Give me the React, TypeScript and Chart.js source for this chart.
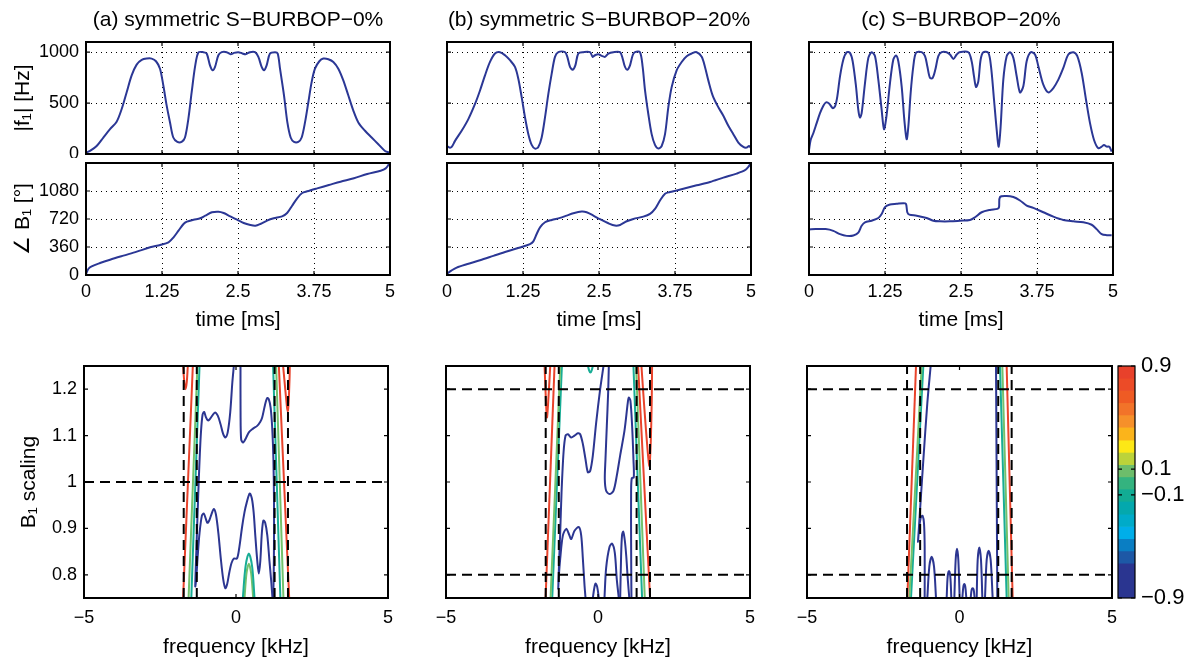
import React, { useEffect, useRef } from "react";
import { Chart, registerables } from "chart.js";

Chart.register(...registerables);

type Pt = [number, number];

const FAMILY = "'Liberation Sans', Arial, Helvetica, sans-serif";
const TICK_SIZE = 18;
const LABEL_SIZE = 21;
const CBAR_SIZE = 22;

const TRACE = "#2b3795";
const RED = "#e8432b";
const GREEN = "#74c16b";
const TEAL = "#18ad95";
const BLUE = "#2c3691";

// ---------- ticks / ranges / texts ----------
const timeTicks = [0, 1.25, 2.5, 3.75, 5];
const f1Ticks = [0, 500, 1000];
const phaseTicks = [0, 360, 720, 1080];
const freqTicks = [-5, 0, 5];
const scalingTicks = [0.8, 0.9, 1, 1.1, 1.2];
const cbarTicks = [-0.9, -0.1, 0.1, 0.9];

const timeRange: Pt = [0, 5];
const f1Range: Pt = [0, 1100];
const phaseRange: Pt = [0, 1440];
const freqRange: Pt = [-5, 5];
const scalingRange: Pt = [0.75, 1.25];
const cbarRange: Pt = [-0.9, 0.9];

const panelTitles = ["(a) symmetric S\u2212BURBOP\u22120%", "(b) symmetric S\u2212BURBOP\u221220%", "(c) S\u2212BURBOP\u221220%"];
const f1Label = "|f\u2081| [Hz]";
const phaseLabel = "\u2220 B\u2081 [\u00b0]";
const timeLabel = "time [ms]";
const freqLabel = "frequency [kHz]";
const scalingLabel = "B\u2081 scaling";

// ---------- |f1| traces (time ms, Hz) ----------
const f1A: Pt[] = [[0,13],[0.066,30],[0.175,79],[0.285,162],[0.395,244],[0.504,317],[0.587,442],[0.669,607],[0.751,772],[0.833,878],[0.916,924],[0.998,937],[1.08,937],[1.151,911],[1.217,838],[1.272,673],[1.327,475],[1.382,310],[1.436,162],[1.502,119],[1.573,119],[1.628,162],[1.683,343],[1.738,607],[1.793,855],[1.848,997],[1.93,1000],[1.985,987],[2.039,871],[2.083,822],[2.122,855],[2.177,970],[2.232,1000],[2.314,1000],[2.379,980],[2.434,993],[2.505,1000],[2.571,987],[2.626,980],[2.697,1000],[2.78,1000],[2.835,954],[2.889,855],[2.928,822],[2.971,871],[3.026,987],[3.109,1000],[3.153,987],[3.191,838],[3.257,574],[3.312,310],[3.366,162],[3.421,119],[3.492,119],[3.547,162],[3.602,310],[3.657,508],[3.711,706],[3.766,838],[3.838,911],[3.904,937],[3.986,931],[4.068,904],[4.15,838],[4.232,723],[4.315,574],[4.397,426],[4.479,310],[4.589,228],[4.698,162],[4.808,96],[4.918,30],[5,13]];
const f1B: Pt[] = [[0,79],[0.038,63],[0.077,69],[0.132,129],[0.241,228],[0.351,343],[0.461,492],[0.543,624],[0.625,772],[0.707,904],[0.789,987],[0.872,1000],[0.954,970],[1.036,921],[1.118,855],[1.173,739],[1.228,558],[1.283,360],[1.338,195],[1.393,89],[1.447,53],[1.502,69],[1.557,162],[1.612,360],[1.667,591],[1.722,789],[1.776,954],[1.831,1000],[1.941,1000],[1.979,954],[2.023,855],[2.067,828],[2.111,871],[2.16,987],[2.242,1000],[2.352,1000],[2.396,954],[2.434,970],[2.489,980],[2.544,964],[2.599,954],[2.654,987],[2.736,1000],[2.846,1000],[2.889,937],[2.928,855],[2.966,828],[3.01,871],[3.054,970],[3.092,1000],[3.174,1000],[3.218,855],[3.257,624],[3.311,393],[3.366,195],[3.421,89],[3.476,53],[3.531,79],[3.586,195],[3.64,459],[3.695,657],[3.777,822],[3.86,904],[3.942,960],[4.024,987],[4.106,1000],[4.189,954],[4.243,855],[4.298,723],[4.37,574],[4.463,459],[4.545,376],[4.627,277],[4.709,195],[4.792,112],[4.874,69],[4.929,63],[4.967,79],[4.995,63]];
const f1C: Pt[] = [[0,39],[0.027,138],[0.071,204],[0.126,303],[0.181,401],[0.236,474],[0.28,507],[0.334,494],[0.389,451],[0.428,467],[0.466,566],[0.51,763],[0.565,928],[0.62,1000],[0.674,993],[0.718,911],[0.773,665],[0.811,434],[0.839,359],[0.866,401],[0.921,697],[0.976,944],[1.031,1000],[1.086,961],[1.14,730],[1.195,434],[1.234,243],[1.277,385],[1.332,697],[1.387,928],[1.431,967],[1.469,911],[1.524,665],[1.568,336],[1.606,145],[1.634,270],[1.672,599],[1.716,862],[1.76,994],[1.853,1000],[1.908,961],[1.946,862],[1.99,747],[2.034,747],[2.078,829],[2.127,961],[2.182,1000],[2.264,1000],[2.319,977],[2.374,934],[2.429,977],[2.473,1000],[2.621,1000],[2.675,911],[2.714,763],[2.747,658],[2.785,714],[2.823,928],[2.867,1000],[2.95,993],[2.993,862],[3.043,533],[3.087,237],[3.12,72],[3.152,270],[3.196,730],[3.251,961],[3.306,1000],[3.361,944],[3.416,763],[3.47,605],[3.525,665],[3.58,911],[3.646,1000],[3.717,977],[3.772,862],[3.854,681],[3.936,605],[4.019,648],[4.101,730],[4.183,845],[4.265,977],[4.348,1000],[4.413,961],[4.485,796],[4.556,533],[4.622,303],[4.688,138],[4.759,56],[4.814,72],[4.852,89],[4.896,72],[4.94,72],[4.978,23]];

// ---------- phase traces (time ms, degrees) ----------
const phaseA: Pt[] = [[0,13],[0.038,77],[0.093,111],[0.231,154],[0.396,197],[0.615,249],[0.835,300],[1.055,356],[1.22,386],[1.357,420],[1.44,484],[1.522,570],[1.604,656],[1.659,686],[1.769,711],[1.879,729],[1.962,763],[2.071,806],[2.181,814],[2.264,797],[2.374,754],[2.484,711],[2.593,669],[2.703,643],[2.786,634],[2.868,656],[2.978,699],[3.088,729],[3.225,754],[3.308,797],[3.39,891],[3.473,986],[3.555,1054],[3.637,1076],[3.802,1114],[3.995,1157],[4.187,1200],[4.407,1243],[4.626,1299],[4.846,1341],[4.929,1371],[4.984,1427]];
const phaseB: Pt[] = [[0,9],[0.022,30],[0.077,60],[0.159,95],[0.323,138],[0.543,190],[0.762,246],[0.981,302],[1.201,354],[1.365,397],[1.42,432],[1.475,527],[1.53,613],[1.612,678],[1.722,708],[1.859,734],[1.968,764],[2.078,794],[2.215,816],[2.297,807],[2.407,764],[2.516,717],[2.654,665],[2.763,635],[2.846,643],[2.955,691],[3.065,721],[3.229,751],[3.339,786],[3.421,850],[3.503,958],[3.586,1045],[3.668,1066],[3.887,1109],[4.106,1153],[4.326,1196],[4.545,1252],[4.764,1304],[4.901,1347],[4.956,1390],[4.995,1433]];
const phaseC: Pt[] = [[0,585],[0.11,590],[0.274,590],[0.4,568],[0.51,525],[0.62,503],[0.729,507],[0.811,546],[0.866,633],[0.921,677],[1.031,698],[1.14,733],[1.195,785],[1.25,872],[1.332,906],[1.442,915],[1.552,924],[1.595,915],[1.617,807],[1.65,776],[1.771,763],[1.935,733],[2.045,698],[2.155,690],[2.319,690],[2.484,698],[2.648,707],[2.73,742],[2.84,807],[2.977,837],[3.098,850],[3.125,872],[3.141,1002],[3.251,1015],[3.361,1002],[3.47,958],[3.58,893],[3.69,863],[3.854,807],[4.019,750],[4.183,707],[4.348,690],[4.512,677],[4.649,646],[4.731,590],[4.814,525],[4.896,512],[4.978,512]];

// ---------- contour lines (kHz, B1 scaling) ----------
// panel (a)
const aRedVL: Pt[] = [[-1.74,1.25],[-1.7,1.215],[-1.66,1.2],[-1.62,1.215],[-1.585,1.25]];
const aRedL: Pt[] = [[-1.74,0.75],[-1.42,1.25]];
const aGreenL: Pt[] = [[-1.56,0.75],[-1.27,1.25]];
const aTealL: Pt[] = [[-1.47,0.75],[-1.2,1.25]];
const aBlue1: Pt[] = [[-0.071,1.25],[-0.12,1.215],[-0.19,1.15],[-0.27,1.108],[-0.345,1.096],[-0.42,1.103],[-0.51,1.125],[-0.6,1.143],[-0.69,1.15],[-0.78,1.143],[-0.88,1.134],[-0.93,1.133],[-0.99,1.14],[-1.05,1.151],[-1.1,1.145],[-1.15,1.11],[-1.19,1.06],[-1.23,0.995],[-1.27,0.92],[-1.31,0.84],[-1.34,0.775],[-1.31,0.79],[-1.26,0.84],[-1.2,0.89],[-1.12,0.928],[-1.06,0.932],[-1.0,0.922],[-0.94,0.912],[-0.88,0.917],[-0.8,0.932],[-0.73,0.942],[-0.66,0.93],[-0.58,0.89],[-0.5,0.835],[-0.42,0.79],[-0.35,0.771],[-0.29,0.78],[-0.22,0.805],[-0.15,0.825],[-0.07,0.835],[0.03,0.835],[0.1,0.855],[0.2,0.903],[0.28,0.935],[0.35,0.955],[0.45,0.975],[0.52,0.965],[0.58,0.935],[0.64,0.88],[0.7,0.83],[0.75,0.803],[0.8,0.83],[0.85,0.89],[0.9,0.917],[0.96,0.912],[1.03,0.885],[1.1,0.83],[1.16,0.785],[1.2,0.75]];
const aBlue2: Pt[] = [[0.148,1.25],[0.15,1.15],[0.17,1.092],[0.236,1.085],[0.33,1.095],[0.422,1.107],[0.56,1.115],[0.696,1.121],[0.8,1.13],[0.861,1.139],[0.95,1.165],[1.025,1.181],[1.08,1.178],[1.14,1.16],[1.19,1.118],[1.23,1.05],[1.25,0.96],[1.25,0.87],[1.24,0.8],[1.225,0.75]];
const aTealArch: Pt[] = [[0.225,0.75],[0.312,0.817],[0.422,0.846],[0.532,0.817],[0.609,0.75]];
const aGreenArch: Pt[] = [[0.28,0.75],[0.345,0.803],[0.422,0.824],[0.499,0.803],[0.565,0.75]];
const aTealR: Pt[] = [[1.22,1.25],[1.46,0.75]];
const aGreenR: Pt[] = [[1.32,1.25],[1.56,0.75]];
const aRedR: Pt[] = [[1.41,1.25],[1.75,0.75]];
const aRedVR: Pt[] = [[1.55,1.25],[1.62,1.2],[1.68,1.16],[1.705,1.153],[1.73,1.17],[1.76,1.22],[1.77,1.25]];
// panel (b)
const bRedVL: Pt[] = [[-1.757,1.25],[-1.724,1.193],[-1.68,1.139],[-1.626,1.186],[-1.571,1.25]];
const bRedL: Pt[] = [[-1.724,0.75],[-1.43,1.25]];
const bGreenL: Pt[] = [[-1.56,0.75],[-1.242,1.25]];
const bTealL: Pt[] = [[-1.505,0.75],[-1.188,1.25]];
const bTealTop: Pt[] = [[-0.33,1.25],[-0.29,1.24],[-0.25,1.236],[-0.21,1.24],[-0.17,1.25]];
const bBlue1: Pt[] = [[0.181,1.25],[0.071,1.2],[-0.06,1.128],[-0.17,1.057],[-0.257,1.024],[-0.334,1.021],[-0.411,1.049],[-0.498,1.082],[-0.586,1.103],[-0.662,1.105],[-0.772,1.1],[-0.881,1.096],[-0.991,1.103],[-1.067,1.1],[-1.133,1.064],[-1.199,0.978],[-1.243,0.892],[-1.275,0.835],[-1.297,0.792],[-1.308,0.77],[-1.286,0.8],[-1.243,0.835],[-1.155,0.885],[-1.045,0.899],[-0.958,0.888],[-0.881,0.877],[-0.772,0.895],[-0.629,0.903],[-0.553,0.885],[-0.498,0.835],[-0.443,0.777],[-0.41,0.75]];
const bBlue2: Pt[] = [[0.356,1.25],[0.334,1.193],[0.29,1.121],[0.246,1.049],[0.224,1.006],[0.268,0.981],[0.378,0.974],[0.509,0.981],[0.619,1.014],[0.728,1.057],[0.87,1.11],[0.98,1.171],[1.013,1.182],[1.067,1.175],[1.122,1.121],[1.166,1.049],[1.177,1.01],[1.111,1.008],[1.089,0.978],[1.089,0.87],[1.1,0.75]];
const bArch1: Pt[] = [[-0.17,0.75],[-0.126,0.77],[-0.082,0.781],[-0.027,0.774],[0.027,0.75]];
const bArch2: Pt[] = [[0.213,0.75],[0.268,0.815],[0.378,0.86],[0.465,0.867],[0.553,0.847],[0.618,0.79],[0.684,0.75]];
const bArch3: Pt[] = [[0.73,0.75],[0.76,0.84],[0.79,0.885],[0.83,0.893],[0.88,0.875],[0.93,0.84],[0.98,0.79],[1.03,0.75]];
const bTealR: Pt[] = [[1.166,1.25],[1.45,0.75]];
const bGreenR: Pt[] = [[1.253,1.25],[1.538,0.75]];
const bRedR: Pt[] = [[1.319,1.25],[1.713,0.75]];
const bRedVR: Pt[] = [[1.429,1.25],[1.527,1.157],[1.637,1.064],[1.691,1.035],[1.735,1.085],[1.768,1.178],[1.779,1.25]];
// panel (c)
const cRedL: Pt[] = [[-1.71,0.75],[-1.426,1.25]];
const cGreenL: Pt[] = [[-1.645,0.75],[-1.24,1.25]];
const cTealL: Pt[] = [[-1.59,0.75],[-1.186,1.25]];
const cBlueL: Pt[] = [[-0.945,1.25],[-1.055,1.17],[-1.186,1.047],[-1.273,0.961],[-1.328,0.904],[-1.361,0.871],[-1.317,0.904],[-1.262,0.925],[-1.208,0.927],[-1.164,0.911],[-1.142,0.861],[-1.142,0.75]];
const cArch1: Pt[] = [[-1.055,0.75],[-0.989,0.818],[-0.913,0.839],[-0.836,0.818],[-0.77,0.75]];
const cArch2: Pt[] = [[-0.421,0.75],[-0.388,0.796],[-0.344,0.808],[-0.301,0.796],[-0.268,0.75]];
const cArch3: Pt[] = [[-0.169,0.75],[-0.126,0.832],[-0.082,0.856],[-0.038,0.832],[0.005,0.75]];
const cArch4: Pt[] = [[0.093,0.75],[0.126,0.774],[0.158,0.78],[0.191,0.774],[0.224,0.75]];
const cArch5: Pt[] = [[0.366,0.75],[0.399,0.768],[0.432,0.771],[0.464,0.768],[0.497,0.75]];
const cArch6: Pt[] = [[0.563,0.75],[0.596,0.832],[0.65,0.859],[0.705,0.832],[0.749,0.75]];
const cArch7: Pt[] = [[0.836,0.75],[0.891,0.832],[0.956,0.852],[1.022,0.832],[1.087,0.75]];
const cBlueR: Pt[] = [[1.197,1.25],[1.24,0.75]];
const cTealR: Pt[] = [[1.328,1.25],[1.546,0.75]];
const cGreenR: Pt[] = [[1.404,1.25],[1.612,0.75]];
const cRedR: Pt[] = [[1.546,1.25],[1.743,0.75]];

// dashed reference lines
const vDashA = [-1.72, -1.29, 1.27, 1.71];
const hDashA = [1];
const vDashB = [-1.72, -1.29, 1.27, 1.71];
const hDashB = [0.8, 1.2];
const vDashC = [-1.72, -1.29, 1.27, 1.71];
const hDashC = [0.8, 1.2];

// colour bar
const cbarEdges = [0.9, 0.805, 0.71, 0.615, 0.52, 0.425, 0.325, 0.23, 0.135, 0.04, -0.055, -0.15, -0.25, -0.345, -0.44, -0.535, -0.63, -0.9];
const cbarColors = ["#e8412b", "#ec4b27", "#ef5b24", "#f27329", "#f6902a", "#fbb41b", "#fde816", "#bcd33a", "#6dbd6b", "#34b37f", "#12ac94", "#04a8ad", "#00abc9", "#00aee9", "#0a7ec3", "#1d58a6", "#2a3590"];

// ---------- helpers ----------
const fmt = (v: any) => {
  const n = Number(v);
  return n < 0 ? "\u2212" + String(-n) : String(n);
};

const curve = (pts: Pt[], color: string, width = 2, dash?: number[]) => ({
  data: pts.map(([x, y]) => ({ x, y })),
  showLine: true,
  borderColor: color,
  backgroundColor: color,
  borderWidth: width,
  borderDash: dash || [],
  pointRadius: 0,
  tension: dash ? 0 : 0.3,
  fill: false,
});

const dashLines = (vs: number[], hs: number[]) => [
  ...hs.map((h) => curve([[freqRange[0], h], [freqRange[1], h]], "#000", 2, [10, 6])),
  ...vs.map((v) => curve([[v, scalingRange[0]], [v, scalingRange[1]]], "#000", 2, [10, 6])),
];

const boxPlugin = {
  id: "mbox",
  afterDatasetsDraw(chart: any, _args: any, opts: any) {
    const { ctx, chartArea: ca } = chart;
    const xs = chart.scales.x;
    const ys = chart.scales.y;
    const tl = 4;
    ctx.save();
    ctx.strokeStyle = "#000";
    ctx.lineWidth = 1.2;
    ctx.beginPath();
    if (opts.xTicks !== false && xs) {
      for (const t of xs.ticks) {
        const px = xs.getPixelForValue(t.value);
        ctx.moveTo(px, ca.bottom);
        ctx.lineTo(px, ca.bottom - tl);
        ctx.moveTo(px, ca.top);
        ctx.lineTo(px, ca.top + tl);
      }
    }
    if (ys) {
      for (const t of ys.ticks) {
        const py = ys.getPixelForValue(t.value);
        ctx.moveTo(ca.left, py);
        ctx.lineTo(ca.left + tl, py);
        ctx.moveTo(ca.right, py);
        ctx.lineTo(ca.right - tl, py);
      }
    }
    ctx.stroke();
    ctx.lineWidth = opts.width || 2;
    ctx.strokeRect(ca.left, ca.top, ca.right - ca.left, ca.bottom - ca.top);
    ctx.restore();
  },
};

interface AxisSpec {
  range: Pt;
  ticks: number[];
  labels: boolean;
  title?: string;
  grid: boolean;
  tickPad?: number;
  titlePad?: number;
}
interface PanelSpec {
  rect: [number, number, number, number];
  pad: [number, number, number, number];
  x: AxisSpec;
  y: AxisSpec;
  title?: string;
  datasets: any[];
}

const tickFont = { family: FAMILY, size: TICK_SIZE };
const labelFont = { family: FAMILY, size: LABEL_SIZE, weight: "normal" as const };

function scatterConfig(p: PanelSpec) {
  const [pl, pt, pr, pb] = p.pad;
  const grid = (on: boolean) => ({ display: on, drawTicks: false, color: "#000", lineWidth: 1 });
  return {
    type: "scatter",
    data: { datasets: p.datasets },
    options: {
      responsive: false,
      animation: false,
      events: [],
      layout: { padding: { left: 0, top: p.title ? 0 : pt, right: pr, bottom: 0 } },
      plugins: {
        legend: { display: false },
        tooltip: { enabled: false },
        title: p.title
          ? {
              display: true,
              text: p.title,
              fullSize: false,
              color: "#000",
              font: labelFont,
              padding: { top: 8, bottom: pt - 8 - LABEL_SIZE * 1.2 },
            }
          : { display: false },
        mbox: {},
      },
      scales: {
        x: {
          type: "linear",
          min: p.x.range[0],
          max: p.x.range[1],
          afterBuildTicks: (s: any) => {
            s.ticks = p.x.ticks.map((v) => ({ value: v }));
          },
          afterFit: (s: any) => {
            s.height = pb;
            s.paddingLeft = 0;
            s.paddingRight = 0;
          },
          ticks: { display: p.x.labels, callback: fmt, font: tickFont, color: "#000", padding: p.x.tickPad ?? 6, maxRotation: 0, autoSkip: false },
          grid: grid(p.x.grid),
          border: { display: false, dash: [1, 4] },
          title: { display: !!p.x.title, text: p.x.title || "", font: labelFont, color: "#000", padding: { top: 0, bottom: p.x.titlePad ?? 4 } },
        },
        y: {
          type: "linear",
          min: p.y.range[0],
          max: p.y.range[1],
          afterBuildTicks: (s: any) => {
            s.ticks = p.y.ticks.map((v) => ({ value: v }));
          },
          afterFit: (s: any) => {
            s.width = pl;
            s.paddingTop = 0;
            s.paddingBottom = 0;
          },
          ticks: { display: p.y.labels, callback: fmt, font: tickFont, color: "#000", padding: p.y.tickPad ?? 7, autoSkip: false },
          grid: grid(p.y.grid),
          border: { display: false, dash: [1, 4] },
          title: { display: !!p.y.title, text: p.y.title || "", font: labelFont, color: "#000", padding: { top: p.y.titlePad ?? 12, bottom: 0 } },
        },
      },
    },
    plugins: [boxPlugin],
  };
}

const CBAR_VPAD = 16;

function colorbarConfig(padR: number) {
  return {
    type: "bar",
    data: {
      labels: [""],
      datasets: cbarColors.map((c, i) => ({
        data: [[cbarEdges[i + 1], cbarEdges[i]]],
        backgroundColor: c,
        borderWidth: 0,
        grouped: false,
        barPercentage: 1,
        categoryPercentage: 1,
      })),
    },
    options: {
      responsive: false,
      animation: false,
      events: [],
      layout: { padding: { left: 4, top: CBAR_VPAD, right: 0, bottom: CBAR_VPAD } },
      plugins: { legend: { display: false }, tooltip: { enabled: false }, mbox: { xTicks: false, width: 1.2 } },
      scales: {
        x: { type: "category", display: false },
        y: {
          type: "linear",
          position: "right",
          min: cbarRange[0],
          max: cbarRange[1],
          afterBuildTicks: (s: any) => {
            s.ticks = cbarTicks.map((v) => ({ value: v }));
          },
          afterFit: (s: any) => {
            s.width = padR;
            s.paddingTop = 0;
            s.paddingBottom = 0;
          },
          ticks: { callback: fmt, font: { family: FAMILY, size: CBAR_SIZE }, color: "#000", padding: 6, autoSkip: false },
          grid: { display: false, drawTicks: false },
          border: { display: false },
        },
      },
    },
    plugins: [boxPlugin],
  };
}

// ---------- layout (page pixels) ----------
const colTop: Pt[] = [[86, 390], [447, 751], [809, 1113]];
const colBot: Pt[] = [[84, 388], [446, 750], [807, 1112]];
const row1: Pt = [42, 154];
const row2: Pt = [163, 275];
const row3: Pt = [366, 598];
const cbarRect: [number, number, number, number] = [1118, 366, 1135, 598];

interface CanvasSpec {
  key: string;
  left: number;
  top: number;
  width: number;
  height: number;
  config: any;
}

function fromPanel(key: string, p: PanelSpec): CanvasSpec {
  const [l, t, r, b] = p.rect;
  const [pl, pt, pr, pb] = p.pad;
  return { key, left: l - pl, top: t - pt, width: r - l + pl + pr, height: b - t + pt + pb, config: scatterConfig(p) };
}

const f1Data = [f1A, f1B, f1C];
const phaseData = [phaseA, phaseB, phaseC];

const contourSets: [Pt[], string][][] = [
  [[aRedVL, RED], [aRedL, RED], [aGreenL, GREEN], [aTealL, TEAL], [aBlue1, BLUE], [aBlue2, BLUE], [aTealArch, TEAL], [aGreenArch, GREEN], [aTealR, TEAL], [aGreenR, GREEN], [aRedR, RED], [aRedVR, RED]],
  [[bRedVL, RED], [bRedL, RED], [bGreenL, GREEN], [bTealL, TEAL], [bTealTop, TEAL], [bBlue1, BLUE], [bBlue2, BLUE], [bArch1, BLUE], [bArch2, BLUE], [bArch3, BLUE], [bTealR, TEAL], [bGreenR, GREEN], [bRedR, RED], [bRedVR, RED]],
  [[cRedL, RED], [cGreenL, GREEN], [cTealL, TEAL], [cBlueL, BLUE], [cArch1, BLUE], [cArch2, BLUE], [cArch3, BLUE], [cArch4, BLUE], [cArch5, BLUE], [cArch6, BLUE], [cArch7, BLUE], [cBlueR, BLUE], [cTealR, TEAL], [cGreenR, GREEN], [cRedR, RED]],
];
const dashSets: [number[], number[]][] = [[vDashA, hDashA], [vDashB, hDashB], [vDashC, hDashC]];

function buildCanvases(): CanvasSpec[] {
  const out: CanvasSpec[] = [];
  for (let c = 0; c < 3; c++) {
    const first = c === 0;
    const [tl, tr] = colTop[c];
    const [bl, br] = colBot[c];
    out.push(
      fromPanel("f1" + c, {
        rect: [tl, row1[0], tr, row1[1]],
        pad: [first ? tl : 20, row1[0], 20, 4],
        title: panelTitles[c],
        x: { range: timeRange, ticks: timeTicks, labels: false, grid: true },
        y: { range: f1Range, ticks: f1Ticks, labels: first, grid: true, title: first ? f1Label : undefined, titlePad: 11 },
        datasets: [curve(f1Data[c], TRACE)],
      })
    );
    out.push(
      fromPanel("ph" + c, {
        rect: [tl, row2[0], tr, row2[1]],
        pad: [first ? tl : 20, 4, 20, 60],
        x: { range: timeRange, ticks: timeTicks, labels: true, grid: true, title: timeLabel, tickPad: 6, titlePad: 2 },
        y: { range: phaseRange, ticks: phaseTicks, labels: first, grid: true, title: first ? phaseLabel : undefined, titlePad: 11 },
        datasets: [curve(phaseData[c], TRACE)],
      })
    );
    out.push(
      fromPanel("bs" + c, {
        rect: [bl, row3[0], br, row3[1]],
        pad: [first ? bl : 20, 4, 20, 661 - row3[1]],
        x: { range: freqRange, ticks: freqTicks, labels: true, grid: false, title: freqLabel, tickPad: 9, titlePad: 1 },
        y: { range: scalingRange, ticks: scalingTicks, labels: first, grid: false, title: first ? scalingLabel : undefined, titlePad: 17 },
        datasets: [...dashLines(dashSets[c][0], dashSets[c][1]), ...contourSets[c].map(([pts, col]) => curve(pts, col))],
      })
    );
  }
  const [cl, ct, cr, cb] = cbarRect;
  const padR = 1191 - cr;
  out.push({ key: "cbar", left: cl - 4, top: ct - CBAR_VPAD, width: cr - cl + 4 + padR, height: cb - ct + 2 * CBAR_VPAD, config: colorbarConfig(padR) });
  return out;
}

function ChartCanvas({ spec }: { spec: CanvasSpec }) {
  const ref = useRef<HTMLCanvasElement | null>(null);
  useEffect(() => {
    const chart = new Chart(ref.current as HTMLCanvasElement, spec.config);
    return () => chart.destroy();
  }, [spec]);
  return (
    <canvas
      ref={ref}
      width={spec.width}
      height={spec.height}
      style={{ position: "absolute", left: spec.left, top: spec.top, width: spec.width, height: spec.height }}
    />
  );
}

const canvases = buildCanvases();

export default function App() {
  return (
    <div style={{ position: "absolute", left: 0, top: 0, width: 1191, height: 661, overflow: "hidden", background: "#fff" }}>
      {canvases.map((s) => (
        <ChartCanvas key={s.key} spec={s} />
      ))}
    </div>
  );
}
